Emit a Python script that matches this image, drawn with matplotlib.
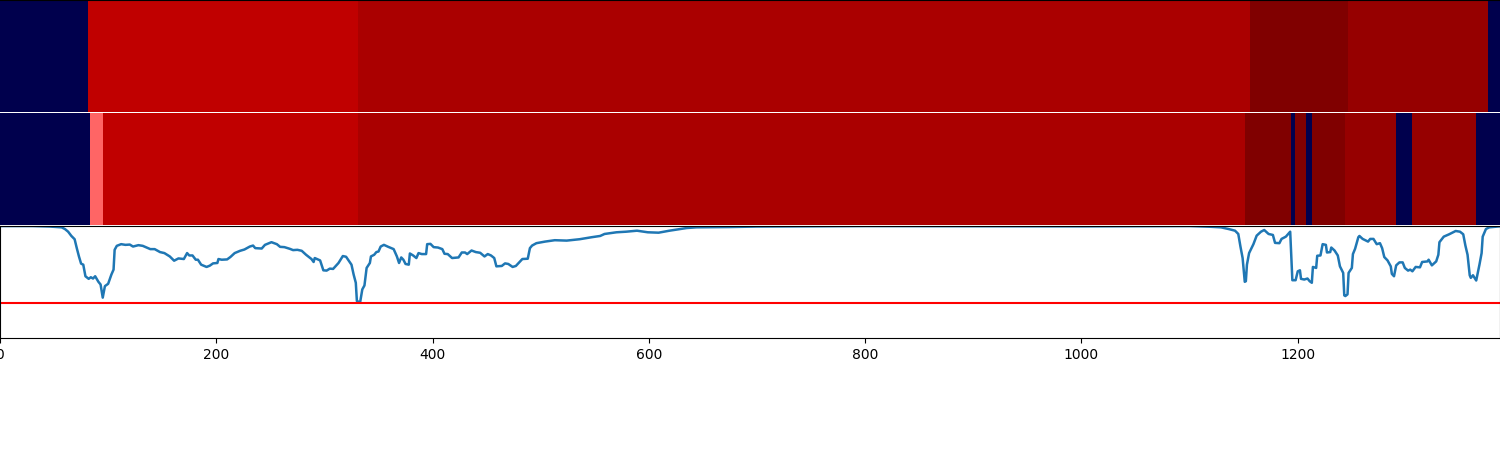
import numpy as np
import matplotlib
matplotlib.use('Agg')
import matplotlib.pyplot as plt

# state segments, one colour value per segment (seismic scale)
top_edges = [0, 81, 331, 1156, 1246, 1376, 1387]
top_states = [0.0, 0.873, 0.917, 1.0, 0.956, 0.0]

mid_edges = [0, 83, 95, 331, 1151, 1194, 1197, 1208, 1213, 1244, 1291, 1306, 1365, 1387]
mid_states = [0.0, 0.652, 0.873, 0.917, 1.0, 0.0, 1.0, 0.0, 1.0, 0.956, 0.0, 0.956, 0.0]

threshold = 35

frames = [0, 30, 46, 57, 60, 63, 66, 69, 71, 73, 75, 77, 79, 82, 84, 86, 88, 91, 93, 95, 97, 100,
          103, 105, 106, 108, 112, 116, 120, 123, 128, 132, 139, 143, 148, 152, 157, 161, 165, 170,
          173, 175, 178, 181, 183, 186, 191, 194, 197, 201, 202, 205, 210, 213, 217, 222, 226, 231,
          234, 236, 242, 245, 251, 256, 259, 263, 268, 271, 275, 279, 283, 288, 290, 291, 296, 299,
          302, 305, 308, 313, 317, 320, 325, 327, 329, 330, 333, 335, 337, 339, 342, 343, 346, 348,
          350, 352, 355, 359, 364, 367, 369, 371, 373, 375, 378, 379, 382, 385, 387, 390, 394, 395,
          398, 401, 405, 409, 411, 414, 418, 424, 427, 430, 432, 436, 440, 444, 448, 451, 454, 457,
          459, 464, 467, 470, 474, 477, 481, 483, 488, 490, 492, 496, 504, 513, 524, 536, 547, 555,
          559, 570, 579, 589, 599, 609, 619, 635, 644, 675, 700, 800, 1000, 1100,
          1119, 1129, 1136, 1142, 1145, 1147, 1149, 1151, 1152, 1153, 1155, 1159, 1162, 1166, 1169,
          1173, 1177, 1179, 1183, 1185, 1189, 1193, 1195, 1198, 1200, 1202, 1203, 1206, 1209, 1211,
          1213, 1214, 1217, 1218, 1221, 1223, 1226, 1227, 1230, 1231, 1234, 1237, 1239, 1242, 1243,
          1244, 1246, 1247, 1250, 1251, 1253, 1256, 1257, 1260, 1265, 1267, 1270, 1273, 1276, 1278,
          1280, 1283, 1286, 1287, 1289, 1291, 1294, 1297, 1299, 1302, 1304, 1306, 1309, 1313, 1315,
          1320, 1321, 1324, 1328, 1330, 1331, 1335, 1340, 1346, 1350, 1353, 1355, 1357, 1359, 1360,
          1362, 1365, 1368, 1370, 1371, 1374, 1377, 1387]

score = [113, 113, 112.5, 111.7, 110, 107.3, 103, 99.7, 90.7, 82.3, 75, 74, 62.3, 59.7, 61.3, 60, 62.3, 56.7, 54, 40.7, 52.3, 54.7,
         64, 69, 89, 93, 94.7, 94, 94.3, 92.3, 93.7, 93, 89.7, 89.7, 86.7, 85.7, 82.3, 78, 80.3, 79.7,
         85.7, 83.3, 83.3, 79, 79, 74, 71.7, 73, 75.3, 75.7, 79.7, 79, 79.3, 81.7, 85.7, 88, 89.3, 92.3,
         93.3, 90.7, 90.3, 94, 96.7, 94.7, 92, 91.7, 90, 88.7, 89, 88, 84, 79.7, 76.7, 80.7, 78.3, 68.3,
         68, 70, 69.7, 75.7, 82.7, 82, 74, 64, 55.7, 37.3, 36, 49, 53, 70.7, 75.7, 82.3, 84, 86.7,
         87.3, 92.3, 94, 92, 89.7, 82.3, 75.7, 81.3, 79, 74.7, 74, 85.3, 83.3, 80.7, 85.7, 84.7, 84.7, 94.7,
         95, 91.7, 91.3, 89.7, 85, 84.7, 80.7, 81.3, 86.3, 86.3, 84.7, 88.3, 86.7, 86, 82.3, 84.7, 83.3, 80.7,
         72.3, 72.7, 75.3, 74.7, 71.7, 72.7, 77.3, 79.7, 80, 90.7, 93.3, 95.7, 97.3, 98.7, 98.3, 99.7, 101.7, 103,
         105, 106.7, 107.3, 108.3, 106.7, 106.3, 108.3, 111, 111.7, 112, 112.5, 113, 112.7, 113,
         112.3, 111.7, 110, 108.3, 105, 92.3, 80.7, 56.7, 57.3, 74, 85.7, 94.7, 103.3, 107.3, 109,
         105, 104, 96, 95.7, 100, 102.3, 107.3, 58.3, 58.3, 67.3, 68.3, 59.7, 59, 60, 57.3,
         55.7, 71.7, 70.7, 83, 83.3, 94.7, 94, 86.3, 86.7, 91.3, 88.3, 83.3, 72.3, 65.7, 43,
         42.3, 44, 65.7, 70.7, 84.7, 90, 101.7, 103, 100, 97.3, 100, 100, 94.7, 95.7, 90.7,
         81.7, 78.3, 72.3, 64.7, 62.3, 73.3, 76.3, 76.3, 70.7, 68, 69, 67.3, 71.7, 71.3, 76.7,
         77.3, 79, 73.3, 77.3, 84, 96.7, 102.3, 104.7, 108, 107.3, 104.7, 93.3, 84, 63.3, 60.7,
         63.3, 58, 74, 85.7, 102.3, 110, 111.7, 112.7]

fig, axes = plt.subplots(3, 1, figsize=(15, 4.5), dpi=100, sharex=True)
fig.subplots_adjust(left=0, right=1, top=1, bottom=0.249, hspace=0.01)

# the two state strips
for ax, edges, states in zip(axes[:2], [top_edges, mid_edges], [top_states, mid_states]):
    ax.pcolormesh(edges, [0, 1], np.array([states]), cmap='seismic', vmin=0, vmax=1)
    ax.set_yticks([])
    ax.tick_params(bottom=False)
    ax.spines[['left', 'right', 'bottom']].set_visible(False)
axes[1].spines['top'].set_visible(False)

ax = axes[2]
ax.plot(frames, score, linewidth=1.8)
ax.axhline(threshold, color='red')
ax.set_ylim(0, 113)
ax.set_yticks([])
ax.set_xlim(0, 1387)
ax.set_xticks([0, 200, 400, 600, 800, 1000, 1200])

plt.savefig('out.png')
